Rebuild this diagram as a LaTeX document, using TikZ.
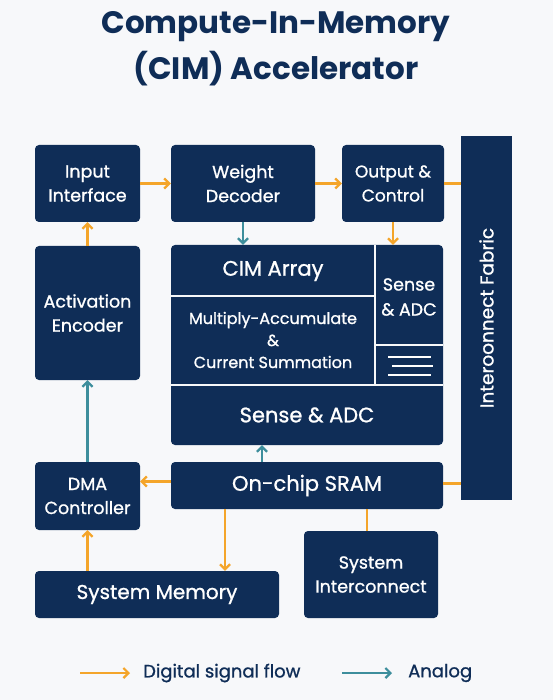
\documentclass[tikz,border=0pt]{standalone}
\usepackage{fontspec}
\setmainfont{Poppins}
\newfontfamily\boxfont{Poppins}[FakeBold=1.0]
\usetikzlibrary{arrows.meta}
\definecolor{navy}{HTML}{0F2D57}
\definecolor{sig}{HTML}{F4A52A}
\definecolor{ana}{HTML}{3D8E9C}
\definecolor{paper}{HTML}{F7F8FA}
\begin{document}
\begin{tikzpicture}[x=1pt,y=-1pt,
  blk/.style={fill=navy,text=white,rounded corners=4pt,align=center,inner sep=0pt,font=\boxfont\fontsize{17.5}{24}\selectfont},
  wtext/.style={text=white,align=center,inner sep=0pt},
  dig/.style={draw=sig,line width=2.2pt,-{Straight Barb[length=5pt,width=10pt]}},
  digline/.style={draw=sig,line width=2.2pt},
  anl/.style={draw=ana,line width=2.2pt,-{Straight Barb[length=5pt,width=10pt]}},
  divider/.style={draw=paper,line width=1.6pt}]

\fill[paper] (0,0) rectangle (553,700);
\useasboundingbox (0,0) rectangle (553,700);

\node[text=navy,font=\fontsize{31}{46}\bfseries\selectfont,align=center] (title) at (276,49) {Compute-In-Memory\\(CIM) Accelerator};

\node[blk,minimum width=105pt,minimum height=77pt] (input) at (87.5,183.5) {Input\\Interface};
\node[blk,minimum width=144pt,minimum height=77pt] (weight) at (243,183.5) {Weight\\Decoder};
\node[blk,minimum width=102pt,minimum height=77pt,font=\boxfont\fontsize{17}{24}\selectfont] (output) at (393,183.5) {Output \&\\Control};
\node[blk,rounded corners=0pt,minimum width=51pt,minimum height=364pt] (fabric) at (486.5,318) {};
\node[wtext,rotate=90,font=\boxfont\fontsize{18.5}{22}\selectfont] (fabrictext) at (fabric.center) {Interoonnect Fabric};

\node[blk,minimum width=105pt,minimum height=134pt] (act) at (87.5,313) {Activation\\Encoder};

\node[blk,minimum width=272pt,minimum height=200pt] (cim) at (307,345) {};
\draw[divider] (171,296) -- (375,296);
\draw[divider] (375,245) -- (375,385);
\draw[divider] (171,385) -- (443,385);
\draw[divider] (375,345) -- (443,345);
\node[wtext,font=\boxfont\fontsize{21}{24}\selectfont] (cimarray) at (273,271) {CIM Array};
\node[wtext,font=\boxfont\fontsize{16}{22}\selectfont] (mac) at (273,340) {Multiply-Accumulate\\\&\\Current Summation};
\node[wtext,font=\boxfont\fontsize{21}{24}\selectfont] (senseb) at (307,415) {Sense \& ADC};
\node[wtext,font=\boxfont\fontsize{17.5}{25}\selectfont] (senser) at (409,297) {Sense\\\& ADC};
\draw[draw=white,line width=1.3pt] (388,357) -- (431,357) (392,366) -- (433,366) (388,375) -- (431,375);

\node[blk,minimum width=105pt,minimum height=68pt] (dma) at (87.5,496) {DMA\\Controller};
\node[blk,minimum width=272pt,minimum height=47pt,font=\boxfont\fontsize{21}{24}\selectfont] (sram) at (307,485.5) {On-chip SRAM};
\node[blk,minimum width=134pt,minimum height=87pt] (sysint) at (371,574.5) {System\\Interconnect};
\node[blk,minimum width=244pt,minimum height=47pt,font=\boxfont\fontsize{20}{24}\selectfont] (sysmem) at (157,594.5) {System Memory};

\draw[dig] (input) -- (weight);
\draw[dig] (weight) -- (output);
\draw[digline] (output.east) -- (output.east -| fabric.west);
\draw[anl] (weight.south) -- (weight.south |- cim.north);
\draw[dig] (output.south) -- (output.south |- cim.north);
\draw[dig] (act) -- (input);
\draw[anl] (dma) -- (act);
\draw[anl] ([xshift=-45pt]sram.north) -- ([xshift=-45pt]sram.north |- cim.south);
\draw[dig] ([yshift=4pt]sram.west) -- ([yshift=4pt]sram.west -| dma.east);
\draw[dig] ([xshift=-82pt]sram.south) -- ([xshift=-82pt]sram.south |- sysmem.north);
\draw[dig] (sysmem.north -| dma) -- (dma.south);
\draw[digline] ([yshift=2pt]sram.east) -- ([yshift=2pt]sram.east -| fabric.west);
\draw[digline] ([xshift=-4pt]sysint.north) -- ([xshift=-4pt]sysint.north |- sram.south);

\coordinate (dga) at (80,673);
\coordinate (dgb) at (130,673);
\draw[dig] (dga) -- (dgb);
\node[anchor=west,text=navy,inner sep=0pt,font=\boxfont\fontsize{18}{20}\selectfont] (diglabel) at (143,673) {Digital signal flow};
\coordinate (ana) at (342,673);
\coordinate (anb) at (392,673);
\draw[anl] (ana) -- (anb);
\node[anchor=west,text=navy,inner sep=0pt,font=\boxfont\fontsize{18}{20}\selectfont] (analabel) at (408,673) {Analog};

\end{tikzpicture}
\end{document}
